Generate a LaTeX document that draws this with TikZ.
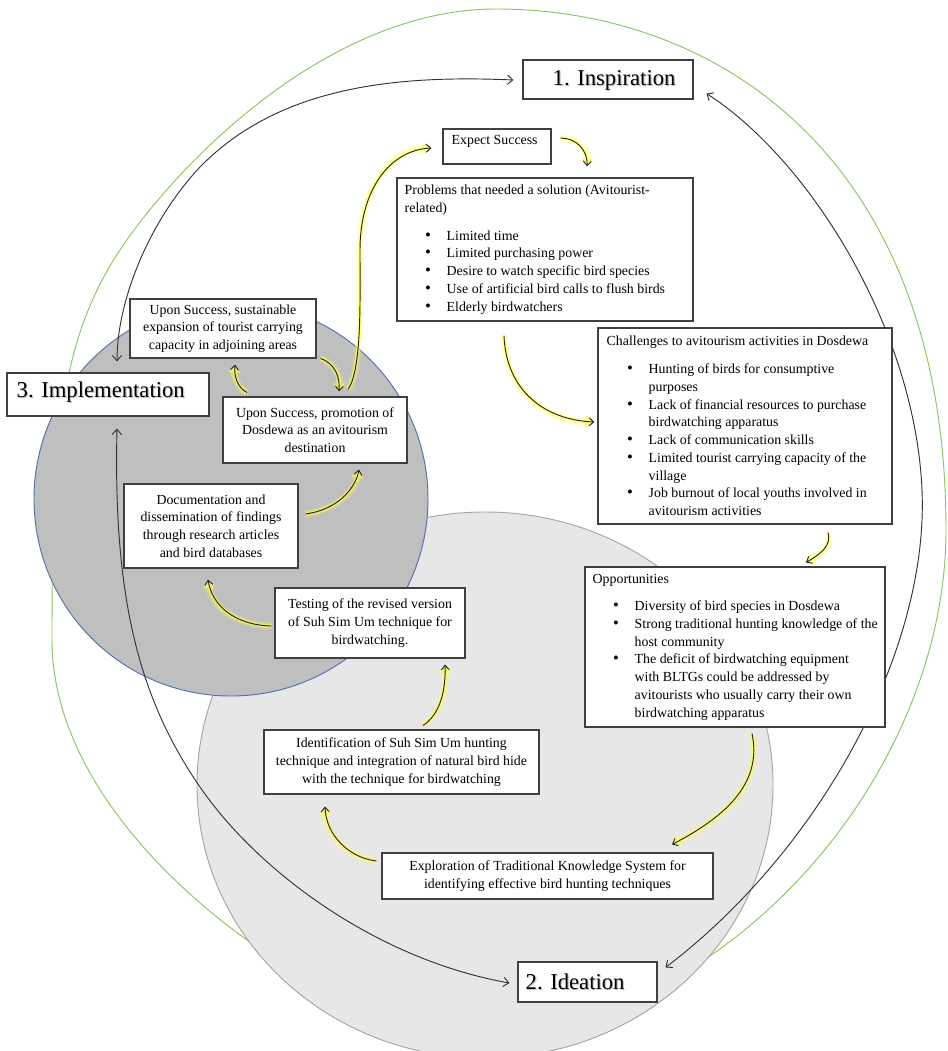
\documentclass[tikz,border=0pt]{standalone}
\usepackage{fontspec}
\setmainfont{Liberation Serif}
\usetikzlibrary{arrows.meta,calc}
\pgfdeclarelayer{bg}
\pgfdeclarelayer{mid}
\pgfsetlayers{bg,mid,main}

\definecolor{gline}{RGB}{140,196,100}
\definecolor{darkfill}{RGB}{191,191,191}
\definecolor{darkedge}{RGB}{82,112,170}
\definecolor{lightfill}{RGB}{231,231,231}
\definecolor{lightedge}{RGB}{165,165,165}
\definecolor{glowc}{RGB}{255,255,80}

\newcommand{\myb}{\makebox[31.5pt][l]{\hspace*{15.2pt}{\fontsize{12.5}{13}\selectfont\textbullet}}}
\newcommand{\myc}{\hspace*{31.5pt}}

\tikzset{
  boxnode/.style={draw=black!75, line width=0.8pt, fill=white, inner sep=0pt, rectangle},
  bigtxt/.style={font=\fontsize{17}{20}\selectfont, inner sep=0pt, anchor=west},
  lefttxt/.style={align=left, inner sep=0pt, anchor=west},
  arcline/.style={draw=black!80, line width=0.7pt,
     {Straight Barb[length=4pt,width=7pt]}-{Straight Barb[length=4pt,width=7pt]}},
  glowarrow/.style={draw=black!85, line width=0.7pt,
     -{Straight Barb[length=3.5pt,width=6pt]},
     preaction={draw=glowc, line width=5.5pt, opacity=0.22},
     preaction={draw=glowc, line width=3pt, opacity=0.5}}
}

\begin{document}
\begin{tikzpicture}[x=0.75pt,y=-0.75pt, font=\fontsize{10.4}{13.3}\selectfont]
\useasboundingbox (0,0) rectangle (948,1051);

\begin{pgfonlayer}{bg}
  \fill[white] (0,0) rectangle (948,1051);
  % green outer loop
  \draw[gline, line width=0.7pt] (496,9) .. controls (720,9) and (946,160) .. (946,530)
     .. controls (946,780) and (720,1035) .. (470,1035)
     .. controls (350,1035) and (52,850) .. (52,640)
     .. controls (52,440) and (59.5,341.3) .. (120,250)
     .. controls (175,167) and (326,9) .. cycle;
  % light circle (Ideation)
  \filldraw[fill=lightfill, draw=lightedge, line width=0.7pt]
    (485,785) ellipse [x radius=216pt, y radius=204.75pt];
  % dark circle (Implementation)
  \filldraw[fill=darkfill, draw=darkedge, line width=0.7pt]
    (231,499) circle [radius=147.75pt];
\end{pgfonlayer}

% ---------- boxes ----------
\node[boxnode, minimum width=127.5pt, minimum height=29.25pt] (insp) at (608,79.5) {};
\node[bigtxt, text=gray!45] (insp-s) at ($(insp.west)+(31.2,1.7)$) {1. Inspiration};
\node[bigtxt] (insp-t) at ($(insp.west)+(30,0.5)$) {1. Inspiration};

\node[boxnode, minimum width=81pt, minimum height=26.25pt] (expect) at (497,146.5) {};
\node[lefttxt] (expect-t) at ($(expect.west)+(9,-5)$) {Expect Success};

\node[boxnode, minimum width=222pt, minimum height=107.25pt] (prob) at (545,249.5) {};
\node[lefttxt] (prob-t) at ($(prob.west)+(8,0)$) {Problems that needed a solution (Avitourist-\\
related)\\[7.5pt]
\myb Limited time\\
\myb Limited purchasing power\\
\myb Desire to watch specific bird species\\
\myb Use of artificial bird calls to flush birds\\
\myb Elderly birdwatchers};

\node[boxnode, minimum width=220.5pt, minimum height=147pt] (chal) at (745,426) {};
\node[lefttxt] (chal-t) at ($(chal.west)+(9,0)$) {Challenges to avitourism activities in Dosdewa\\[7.5pt]
\myb Hunting of birds for consumptive\\
\myc purposes\\
\myb Lack of financial resources to purchase\\
\myc birdwatching apparatus\\
\myb Lack of communication skills\\
\myb Limited tourist carrying capacity of the\\
\myc village\\
\myb Job burnout of local youths involved in\\
\myc avitourism activities};

\node[boxnode, minimum width=225pt, minimum height=120pt] (opp) at (735,647) {};
\node[lefttxt] (opp-t) at ($(opp.west)+(8,0)$) {Opportunities\\[7.5pt]
\myb Diversity of bird species in Dosdewa\\
\myb Strong traditional hunting knowledge of the\\
\myc host community\\
\myb The deficit of birdwatching equipment\\
\myc with BLTGs could be addressed by\\
\myc avitourists who usually carry their own\\
\myc birdwatching apparatus};

\node[boxnode, align=center, minimum width=248.25pt, minimum height=34.5pt] (explo) at (547.5,876)
  {Exploration of Traditional Knowledge System for\\identifying effective bird hunting techniques};

\node[boxnode, align=center, minimum width=206.25pt, minimum height=48pt] (ident) at (401.5,762)
  {Identification of Suh Sim Um hunting\\technique and integration of natural bird hide\\with the technique for birdwatching};

\node[boxnode, align=center, minimum width=142.5pt, minimum height=52.5pt] (test) at (370,623)
  {Testing of the revised version\\of Suh Sim Um technique for\\birdwatching.};

\node[boxnode, align=center, minimum width=130.5pt, minimum height=63pt] (doc) at (211,526)
  {Documentation and\\dissemination of findings\\through research articles\\and bird databases};

\node[boxnode, align=center, minimum width=138pt, minimum height=49.5pt] (promo) at (315,430)
  {Upon Success, promotion of\\Dosdewa as an avitourism\\destination};

\node[boxnode, align=center, minimum width=139.5pt, minimum height=44.25pt] (expan) at (223,328.5)
  {Upon Success, sustainable\\expansion of tourist carrying\\capacity in adjoining areas};

\node[boxnode, minimum width=151.5pt, minimum height=32.25pt] (impl) at (108,394.5) {};
\node[bigtxt, text=gray!45] (impl-s) at ($(impl.west)+(11.2,-1.3)$) {3. Implementation};
\node[bigtxt] (impl-t) at ($(impl.west)+(10,-2.5)$) {3. Implementation};

\node[boxnode, minimum width=104.25pt, minimum height=30pt] (idea) at (587.5,982) {};
\node[bigtxt, text=gray!45] (idea-s) at ($(idea.west)+(9.2,1.2)$) {2. Ideation};
\node[bigtxt] (idea-t) at ($(idea.west)+(8,0)$) {2. Ideation};

% ---------- connectors ----------
\begin{pgfonlayer}{mid}
% big black arcs between the three stages
\draw[arcline] ($(impl.north)+(9,-11)$) .. controls +(0,-62) and +(-50,53) .. (200,167)
   .. controls +(80,-82) and +(-114,-5) .. ($(insp.west)+(-9,0.5)$);
\draw[arcline] ($(insp.south east)+(13,-6)$) .. controls +(104,67) and +(-7,-160) .. (922,490)
   .. controls +(7,160) and +(155,-118) .. ($(idea.north east)+(8,6)$);
\draw[arcline] ($(impl.south)+(9,12)$) .. controls +(-4,172) and +(-60,-87) .. (200,787)
   .. controls +(60,87) and +(-130,-23) .. ($(idea.west)+(-8,1)$);

% glowing process arrows
\draw[glowarrow] ($(expect.east)+(9,-8.5)$) .. controls +(15,0) and +(1,-17) .. ($(prob.north)+(42,-11)$);
\draw[glowarrow] ($(prob.south)+(-41,14)$) .. controls +(2,55) and +(-50,-2) .. ($(chal.west)+(-3,-4)$);
\draw[glowarrow] ($(chal.south)+(83,8)$) .. controls +(4,13) and +(14,-8) .. ($(opp.north)+(71,-4)$);
\draw[glowarrow] ($(opp.south)+(17,6)$) .. controls +(10,47) and +(58,-30) .. ($(explo.north)+(124.5,-8)$);
\draw[glowarrow] ($(explo.west)+(-5,-15)$) .. controls +(-27,-3) and +(1,29) .. ($(ident.south)+(-76.5,12)$);
\draw[glowarrow] ($(ident.north)+(21.5,-4)$) .. controls +(17,-11) and +(1,26) .. ($(test.south)+(75,6)$);
\draw[glowarrow] ($(test.west)+(-3,3)$) .. controls +(-37,-1) and +(4,26) .. ($(doc.south)+(-3,11)$);
\draw[glowarrow] ($(doc.east)+(7,-12)$) .. controls +(30,-4) and +(-4,21) .. ($(promo.south)+(44,6)$);
\draw[glowarrow] ($(promo.north)+(-68,-4)$) .. controls +(-10,-5) and +(-1,11) .. ($(expan.south)+(12,6)$);
\draw[glowarrow] ($(expan.south east)+(4,0)$) .. controls +(15,5) and +(1,-14) .. ($(promo.north)+(24,-5)$);
\draw[glowarrow] ($(promo.north)+(33,-7)$) .. controls +(14,-20) and +(0,50) .. (360,250)
   .. controls +(0,-60) and +(-42,2) .. ($(expect.west)+(-11,1.5)$);
\end{pgfonlayer}
\end{tikzpicture}
\end{document}
